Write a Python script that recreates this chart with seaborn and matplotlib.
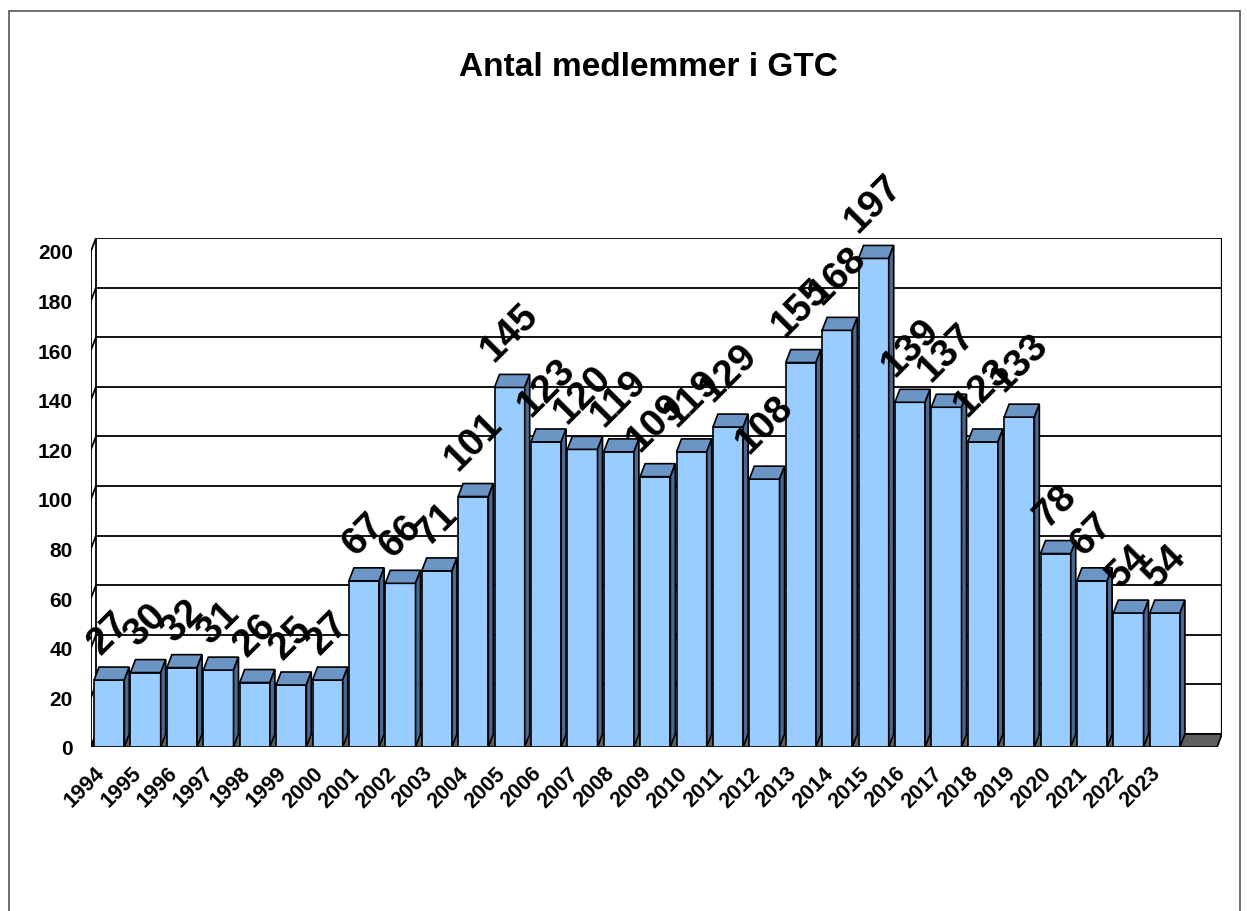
import numpy as np
import pandas as pd
import seaborn as sns
import matplotlib.pyplot as plt
from matplotlib.patches import Polygon
from matplotlib.lines import Line2D

years = [str(y) for y in range(1994, 2024)]
members = [27, 30, 32, 31, 26, 25, 27, 67, 66, 71, 101, 145, 123, 120, 119,
           109, 119, 129, 108, 155, 168, 197, 139, 137, 123, 133, 78, 67, 54, 54]
y_ticks = list(range(0, 201, 20))

df = pd.DataFrame({"year": years, "members": members})

sns.set_style("white")
plt.rcParams["font.family"] = ["Liberation Sans", "DejaVu Sans"]
plt.rcParams["text.color"] = "black"
plt.rcParams["xtick.color"] = "black"
plt.rcParams["ytick.color"] = "black"

W, H = 1247, 912
fig = plt.figure(figsize=(W / 100, H / 100), dpi=100)
# axes box: front-left x=91px, back-right x=1222px, floor front y=748px, wall top y=239px
ax = fig.add_axes([91 / W, (H - 748) / H, (1222 - 91) / W, (748 - 239) / H])

x0, xr = -0.5, 30.57
top = 205.24
dx, dy = 0.137, 5.24  # depth offset in data units

# back wall + gridlines
for v in y_ticks:
    ax.plot([x0 + dx, xr], [v + dy, v + dy], color="black", lw=1.3, zorder=1)
    ax.plot([x0, x0 + dx], [v, v + dy], color="black", lw=1.3, zorder=1)
ax.plot([x0, x0], [0, 200], color="black", lw=1.3, zorder=1)
ax.plot([x0 + dx, x0 + dx], [dy, 200 + dy], color="black", lw=1.3, zorder=1)
ax.plot([xr, xr], [dy, 200 + dy], color="black", lw=1.6, zorder=1)

# floor
xf = xr - dx
ax.add_patch(Polygon([(x0, 0), (xf, 0), (xr, dy), (x0 + dx, dy)],
                     closed=True, facecolor="#5f5f5f", edgecolor="black",
                     lw=1.3, zorder=2))

sns.barplot(data=df, x="year", y="members", color="#99ccff", saturation=1,
            width=0.83, edgecolor="black", linewidth=1.2, ax=ax, zorder=3)
ax.set_xlim(x0, xr)
ax.set_ylim(0, top)

for p, v in zip(ax.containers[0], members):
    l = p.get_x()
    r = l + p.get_width()
    h = p.get_height()
    ax.add_patch(Polygon([(l, h), (r, h), (r + dx, h + dy), (l + dx, h + dy)],
                         closed=True, facecolor="#6a95c5", edgecolor="black",
                         lw=1.2, zorder=4))
    ax.add_patch(Polygon([(r, 0), (r + dx, dy), (r + dx, h + dy), (r, h)],
                         closed=True, facecolor="#4a6890", edgecolor="black",
                         lw=1.2, zorder=4))
    ax.annotate(str(v), (l + p.get_width() / 2, h), xytext=(0, 14),
                textcoords="offset points", rotation=45, ha="center",
                va="bottom", fontsize=28, fontweight="bold", color="black",
                zorder=6)

for s in ax.spines.values():
    s.set_visible(False)
ax.set_xlabel("")
ax.set_ylabel("")
ax.set_yticks(y_ticks)
ax.set_yticklabels([str(t) for t in y_ticks], fontsize=15, fontweight="bold")
ax.tick_params(axis="y", length=0, pad=13)
ax.tick_params(axis="x", length=0, pad=11)
for lab in ax.get_xticklabels():
    lab.set_rotation(45)
    lab.set_ha("right")
    lab.set_fontsize(15.5)
    lab.set_fontweight("bold")

fig.text(648 / W, 1 - 67 / H, "Antal medlemmer i GTC", ha="center",
         va="center", fontsize=24, fontweight="bold", color="black")

# outer frame
for xs, ys in [([9, 9], [12, H]), ([9, 1240], [12, 12]), ([1240, 1240], [12, H])]:
    fig.add_artist(Line2D([x / W for x in xs], [1 - y / H for y in ys],
                          color="#555555", lw=1.2))

fig.savefig("out.png", dpi=100)
